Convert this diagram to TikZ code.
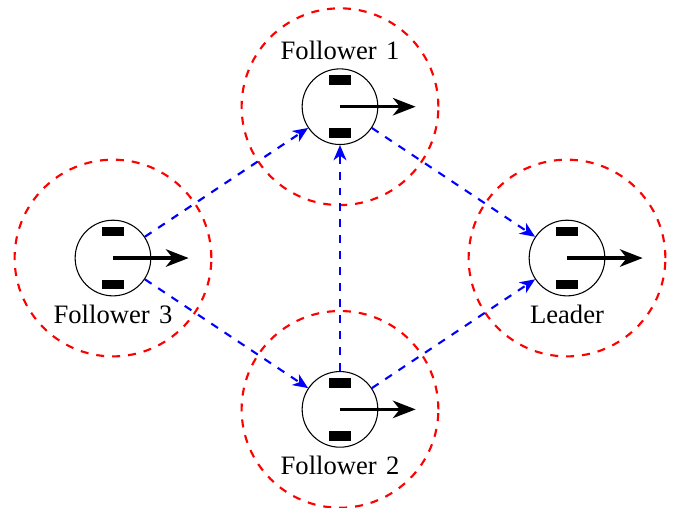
\documentclass[tikz,border=0pt]{standalone}
\usepackage{fontspec}
\setmainfont{Liberation Serif}
\usetikzlibrary{arrows.meta}
\begin{document}
\begin{tikzpicture}[
    robotnode/.style={circle, draw=black, fill=white, thin, minimum size=1cm, inner sep=0pt},
    rangenode/.style={circle, draw=red, thick, dashed, minimum size=2.6cm, inner sep=0pt},
    wheelnode/.style={rectangle, fill=black, minimum width=0.3cm, minimum height=0.13cm, inner sep=0pt},
    link/.style={draw=blue, thick, dashed, -{Stealth[length=0.2cm,width=0.17cm,inset=0.06cm]}},
    heading/.style={draw=black, line width=1.3pt, -{Stealth[length=0.3cm,width=0.23cm,inset=0.09cm]}}
    ]
    \useasboundingbox (-1.493,-3.303) rectangle (7.467,3.41);

    \node [rangenode] (r1) at (3, 2) {};
    \node [rangenode] (r2) at (3,-2) {};
    \node [rangenode] (r3) at (0, 0) {};
    \node [rangenode] (r4) at (6, 0) {};

    \node [robotnode] (f1) at (3, 2) {};
    \node [robotnode] (f2) at (3,-2) {};
    \node [robotnode] (f3) at (0, 0) {};
    \node [robotnode] (l1) at (6, 0) {};

    \foreach \n in {f1,f2,f3,l1} {
        \node [wheelnode] (\n up) at ([yshift=0.35cm]\n) {};
        \node [wheelnode] (\n down) at ([yshift=-0.35cm]\n) {};
        \coordinate (\n tip) at ([xshift=1cm]\n);
        \draw [heading] (\n.center) -- (\n tip);
    }

    \node (t1) at (3, 2.75) {Follower\hspace{1pt} 1};
    \node (t2) at (3,-2.74) {Follower\hspace{1pt} 2};
    \node (t3) at (0,-0.74) {Follower\hspace{1pt} 3};
    \node (t4) at (6,-0.74) {Leader};

    \draw [link] (f3) -- (f1);
    \draw [link] (f3) -- (f2);
    \draw [link] (f2) -- (f1);
    \draw [link] (f1) -- (l1);
    \draw [link] (f2) -- (l1);
\end{tikzpicture}
\end{document}
